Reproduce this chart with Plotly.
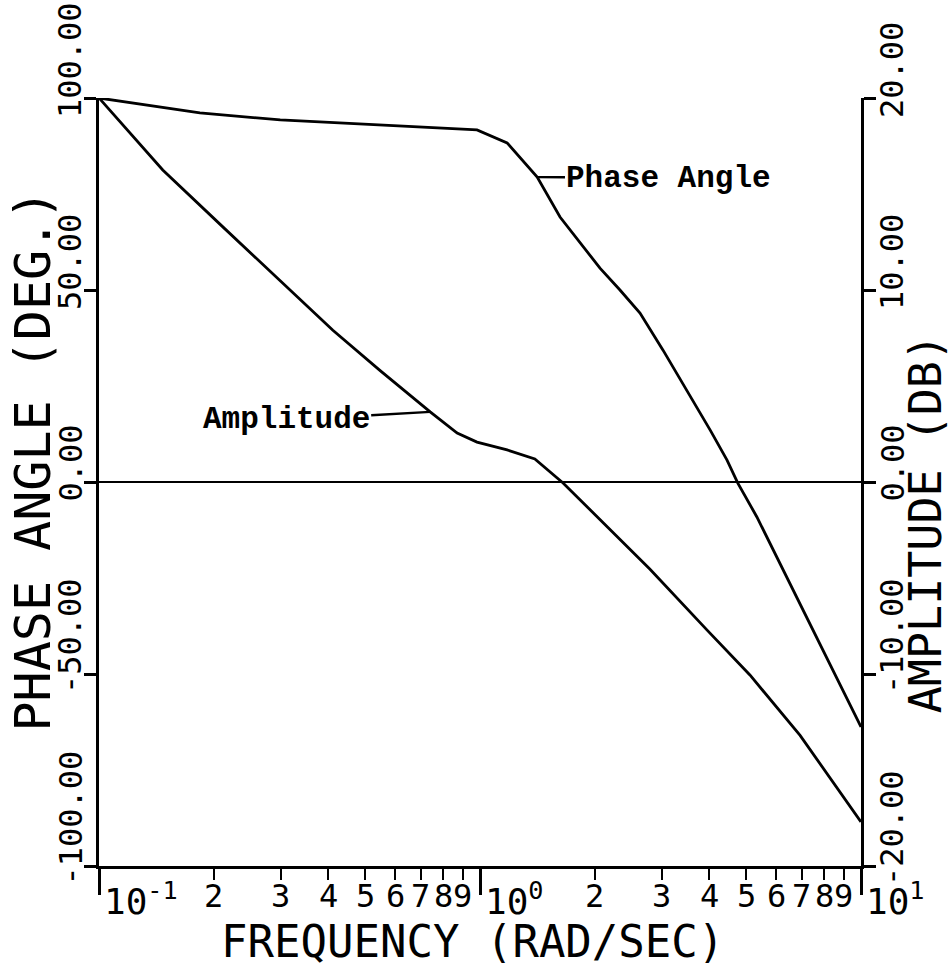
import math
import plotly.graph_objects as go

# ---- data ----
freq_phase = [0.1, 0.184, 0.299, 0.55, 0.982, 1.178, 1.413, 1.622, 2.065, 2.33, 2.63,
              3.02, 3.49, 4.02, 4.45, 4.75, 5.33, 6.92, 8.45, 10.0]
phase_deg = [100.0, 96.1, 94.3, 93.0, 91.7, 88.3, 79.4, 69.0, 55.7, 50.0, 44.0,
             34.4, 24.0, 13.5, 5.7, -0.3, -9.1, -31.8, -49.0, -63.8]

freq_amp = [0.1, 0.147, 0.211, 0.299, 0.411, 0.547, 0.74, 0.871, 0.982, 1.178, 1.393,
            1.652, 2.065, 2.79, 3.94, 5.11, 6.92, 8.29, 10.0]
amp_db = [20.0, 16.25, 13.3, 10.5, 7.9, 5.8, 3.65, 2.55, 2.08, 1.67, 1.20,
          -0.05, -1.98, -4.53, -7.7, -10.05, -13.2, -15.4, -17.7]

phase_ticks = [-100, -50, 0, 50, 100]
phase_tick_text = ["-100.00", "-50.00", "0.00", "50.00", "100.00"]
amp_ticks = [-20, -10, 0, 10, 20]
amp_tick_text = ["-20.00", "-10.00", "0.00", "10.00", "20.00"]

decade_vals = [0.1, 1.0, 10.0]
decade_text = ["10<sup>-1</sup>", "10<sup>0</sup>", "10<sup>1</sup>"]
digit_vals = [0.2, 0.3, 0.4, 0.5, 0.6, 0.7, 0.8, 0.9, 2, 3, 4, 5, 6, 7, 8, 9]
digit_text = ["2", "3", "4", "5", "6", "7", "8", "9"] * 2

phase_label = ("Phase Angle", 1.411, 79.4)
amp_label = ("Amplitude", 0.74, 3.65)

PLOT_FONT = "DejaVu Sans Mono"
TYPE_FONT = "Liberation Mono"

fig = go.Figure()
fig.add_trace(go.Scatter(x=freq_phase, y=phase_deg, mode="lines",
                         line=dict(color="black", width=2.8), yaxis="y", showlegend=False))
fig.add_trace(go.Scatter(x=freq_amp, y=amp_db, mode="lines",
                         line=dict(color="black", width=2.8), yaxis="y2", showlegend=False))

annotations = []
# left tick labels (rotated, starting just below the tick)
for v, t in zip(phase_ticks, phase_tick_text):
    annotations.append(dict(text=t, xref="paper", x=0, yref="y", y=v, textangle=-90,
                            xanchor="center", yanchor="bottom", xshift=-29, yshift=-22,
                            showarrow=False, font=dict(family=PLOT_FONT, size=32, color="black")))
# right tick labels
for v, t in zip(amp_ticks, amp_tick_text):
    annotations.append(dict(text=t, xref="paper", x=1, yref="y2", y=v, textangle=-90,
                            xanchor="center", yanchor="bottom", xshift=31, yshift=-22,
                            showarrow=False, font=dict(family=PLOT_FONT, size=32, color="black")))
# x digit labels
for v, t in zip(digit_vals, digit_text):
    annotations.append(dict(text=t, xref="x", x=math.log10(v), yref="paper", y=0,
                            xanchor="center", yanchor="middle", yshift=-30,
                            showarrow=False, font=dict(family=PLOT_FONT, size=32, color="black")))
# decade labels
for v, t in zip(decade_vals, decade_text):
    annotations.append(dict(text=t, xref="x", x=math.log10(v), yref="paper", y=0,
                            xanchor="left", yanchor="top", xshift=3, yshift=-8,
                            showarrow=False, font=dict(family=PLOT_FONT, size=36, color="black")))
# axis titles
annotations.append(dict(text="PHASE ANGLE (DEG.)", xref="paper", x=0, yref="paper", y=0.528,
                        textangle=-90, xanchor="center", yanchor="middle", xshift=-66,
                        showarrow=False, font=dict(family=PLOT_FONT, size=50, color="black")))
annotations.append(dict(text="AMPLITUDE (DB)", xref="paper", x=1, yref="paper", y=0.445,
                        textangle=-90, xanchor="center", yanchor="middle", xshift=64,
                        showarrow=False, font=dict(family=PLOT_FONT, size=45, color="black")))
annotations.append(dict(text="FREQUENCY (RAD/SEC)", xref="paper", x=0.49, yref="paper", y=0,
                        xanchor="center", yanchor="middle", yshift=-75,
                        showarrow=False, font=dict(family=PLOT_FONT, size=44, color="black")))
# curve labels with leader lines
annotations.append(dict(text=phase_label[0], xref="x", x=math.log10(phase_label[1]),
                        yref="y", y=phase_label[2], showarrow=True, arrowhead=0,
                        arrowwidth=2.4, arrowcolor="black", ax=132, ay=1, standoff=0,
                        borderpad=1,
                        font=dict(family=TYPE_FONT, size=31, color="black", weight="bold")))
annotations.append(dict(text=amp_label[0], xref="x", x=math.log10(amp_label[1]),
                        yref="y2", y=amp_label[2], showarrow=True, arrowhead=0,
                        arrowwidth=2.4, arrowcolor="black", ax=-144, ay=8, standoff=0,
                        borderpad=1,
                        font=dict(family=TYPE_FONT, size=31, color="black", weight="bold")))

fig.update_layout(
    width=951, height=970,
    margin=dict(l=99, r=90, t=98, b=104),
    paper_bgcolor="white", plot_bgcolor="white",
    showlegend=False,
    annotations=annotations,
    xaxis=dict(type="log", range=[-1, 1], showgrid=False, zeroline=False,
               showline=True, linecolor="black", linewidth=3,
               ticks="outside", tickmode="array", tickvals=decade_vals,
               ticklen=26, tickwidth=2.5, tickcolor="black", showticklabels=False,
               minor=dict(ticks="outside", tickmode="array", tickvals=digit_vals,
                          ticklen=11, tickwidth=2, tickcolor="black", showgrid=False)),
    yaxis=dict(range=[-100, 100], showgrid=False, zeroline=True, zerolinecolor="black",
               zerolinewidth=2.2, showline=True, linecolor="black", linewidth=3,
               ticks="outside", tickmode="array", tickvals=phase_ticks, ticklen=12,
               tickwidth=2.5, tickcolor="black", showticklabels=False),
    yaxis2=dict(range=[-20, 20], overlaying="y", side="right", showgrid=False,
                zeroline=False, showline=True, linecolor="black", linewidth=3,
                ticks="outside", tickmode="array", tickvals=amp_ticks, ticklen=12,
                tickwidth=2.5, tickcolor="black", showticklabels=False),
)

fig.write_html("out.html")
